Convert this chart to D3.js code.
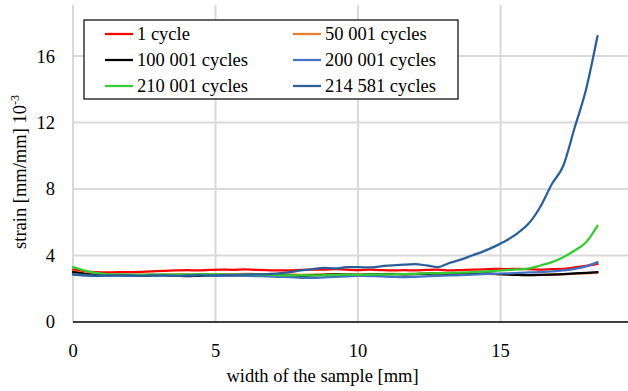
<!DOCTYPE html>
<html><head><meta charset="utf-8">
<script src="https://cdn.jsdelivr.net/npm/d3@7"></script>
<style>
html,body{margin:0;padding:0;background:#fff;}
</style></head>
<body><svg id="c" width="628" height="391" font-family="'Liberation Serif', 'Times New Roman', Times, serif"></svg>
<script>
const xs = [0,0.4,0.8,1.2,1.6,2.0,2.4,2.8,3.2,3.6,4.0,4.4,4.8,5.2,5.6,6.0,6.4,6.8,7.2,7.6,8.0,8.4,8.8,9.2,9.6,10.0,10.4,10.8,11.2,11.6,12.0,12.4,12.8,13.2,13.6,14.0,14.4,14.8,15.2,15.6,16.0,16.4,16.8,17.2,17.6,18.0,18.4];
const seriesNames = ["1 cycle","50 001 cycles","100 001 cycles","200 001 cycles","210 001 cycles","214 581 cycles"];
const seriesColors = ["#FF0000","#ED7D31","#000000","#4472C4","#33CC33","#2A6099"];
const s1 = [3.15,3.05,3.0,2.98,3.0,3.0,3.02,3.05,3.08,3.1,3.12,3.1,3.13,3.15,3.14,3.16,3.14,3.12,3.1,3.1,3.13,3.15,3.15,3.18,3.15,3.12,3.15,3.12,3.1,3.12,3.1,3.13,3.15,3.1,3.12,3.15,3.17,3.2,3.18,3.2,3.18,3.15,3.18,3.2,3.28,3.38,3.5];
const s50 = [3.05,2.95,2.88,2.85,2.85,2.84,2.85,2.86,2.85,2.87,2.86,2.85,2.86,2.88,2.87,2.9,2.88,2.87,2.85,2.86,2.84,2.85,2.87,2.88,2.86,2.85,2.87,2.88,2.9,2.88,2.9,2.92,2.9,2.88,2.9,2.92,2.9,2.88,2.85,2.83,2.82,2.84,2.85,2.87,2.9,2.93,2.95];
const s100 = [3.0,2.9,2.82,2.8,2.82,2.8,2.78,2.8,2.82,2.8,2.76,2.78,2.8,2.82,2.8,2.82,2.84,2.82,2.8,2.78,2.76,2.8,2.84,2.86,2.85,2.84,2.85,2.86,2.88,2.87,2.88,2.9,2.92,2.9,2.92,2.93,2.92,2.9,2.86,2.83,2.82,2.83,2.85,2.88,2.92,2.96,3.0];
const s200 = [2.9,2.82,2.78,2.8,2.8,2.79,2.8,2.82,2.8,2.78,2.8,2.82,2.8,2.78,2.8,2.78,2.76,2.75,2.72,2.7,2.66,2.65,2.68,2.72,2.75,2.78,2.76,2.75,2.72,2.7,2.72,2.75,2.78,2.8,2.82,2.85,2.88,2.9,2.92,2.95,2.98,3.0,3.05,3.1,3.2,3.35,3.6];
const s210 = [3.3,3.1,2.95,2.88,2.86,2.85,2.84,2.85,2.86,2.85,2.86,2.88,2.87,2.86,2.85,2.84,2.85,2.84,2.82,2.8,2.8,2.8,2.82,2.84,2.85,2.84,2.85,2.86,2.87,2.88,2.9,2.92,2.94,2.95,2.97,3.0,3.03,3.08,3.12,3.16,3.22,3.4,3.6,3.9,4.3,4.8,5.8];
const s214 = [2.85,2.8,2.78,2.8,2.8,2.8,2.78,2.8,2.8,2.78,2.8,2.82,2.8,2.82,2.84,2.85,2.86,2.88,2.92,3.0,3.1,3.18,3.25,3.22,3.3,3.3,3.28,3.35,3.4,3.45,3.48,3.4,3.3,3.55,3.75,4.0,4.25,4.55,4.9,5.35,5.95,6.95,8.3,9.4,11.7,14.0,17.2];
const seriesValues = [s1,s50,s100,s200,s210,s214];
const yTicks = [0,4,8,12,16];
const xTicks = [0,5,10,15];

const svg = d3.select("#c");
const L = 73, R = 628, T = 5, B = 322;
const x = d3.scaleLinear().domain([0,19.47]).range([L,R]);
const y = d3.scaleLinear().domain([0,19.07]).range([B,T]);

// gridlines
svg.append("g").selectAll("line").data(yTicks.filter(d=>d>0)).join("line")
  .attr("x1",L).attr("x2",R).attr("y1",d=>y(d)).attr("y2",d=>y(d))
  .attr("stroke","#d9d9d9").attr("stroke-width",2);
svg.append("g").selectAll("line").data(xTicks.filter(d=>d>0)).join("line")
  .attr("y1",T).attr("y2",B).attr("x1",d=>x(d)).attr("x2",d=>x(d))
  .attr("stroke","#d9d9d9").attr("stroke-width",2);
svg.append("line").attr("x1",L).attr("x2",L).attr("y1",T).attr("y2",B)
  .attr("stroke","#d9d9d9").attr("stroke-width",2);

// series
const line = d3.line().x((d,i)=>x(xs[i])).y(d=>y(d)).curve(d3.curveMonotoneX);
seriesValues.forEach((vals,k)=>{
  svg.append("path").datum(vals).attr("d",line)
    .attr("fill","none").attr("stroke",seriesColors[k]).attr("stroke-width",2.25)
    .attr("stroke-linejoin","round").attr("stroke-linecap","round");
});

// x axis line
svg.append("line").attr("x1",L).attr("x2",R).attr("y1",B).attr("y2",B)
  .attr("stroke","#000").attr("stroke-width",1.5);

// tick labels
svg.append("g").selectAll("text").data(yTicks).join("text")
  .attr("x",55).attr("y",d=>y(d)).attr("dy","0.35em").attr("text-anchor","end")
  .attr("font-size",18.5).text(d=>d);
svg.append("g").selectAll("text").data(xTicks).join("text")
  .attr("x",d=>x(d)).attr("y",357).attr("text-anchor","middle")
  .attr("font-size",18.5).text(d=>d);

// axis titles
svg.append("text").attr("x",(L+R)/2 - 28).attr("y",382).attr("text-anchor","middle")
  .attr("font-size",18.5).text("width of the sample [mm]");
const yt = svg.append("text").attr("transform","translate(26,172) rotate(-90)")
  .attr("text-anchor","middle").attr("font-size",18.5);
yt.append("tspan").text("strain [mm/mm] 10");
yt.append("tspan").attr("dy",-7).attr("font-size",12).text("-3");

// legend
const lg = svg.append("g");
lg.append("rect").attr("x",84).attr("y",20).attr("width",374).attr("height",79)
  .attr("fill","#fff").attr("stroke","#000").attr("stroke-width",1.2);
const rowsY = [34,60,86];
const colsX = [105,293];
seriesNames.forEach((n,k)=>{
  const cx = colsX[k%2], cy = rowsY[Math.floor(k/2)];
  lg.append("line").attr("x1",cx).attr("x2",cx+28).attr("y1",cy).attr("y2",cy)
    .attr("stroke",seriesColors[k]).attr("stroke-width",2.25);
  lg.append("text").attr("x",cx+32).attr("y",cy).attr("dy","0.35em")
    .attr("font-size",18.5).text(n);
});
</script></body></html>
